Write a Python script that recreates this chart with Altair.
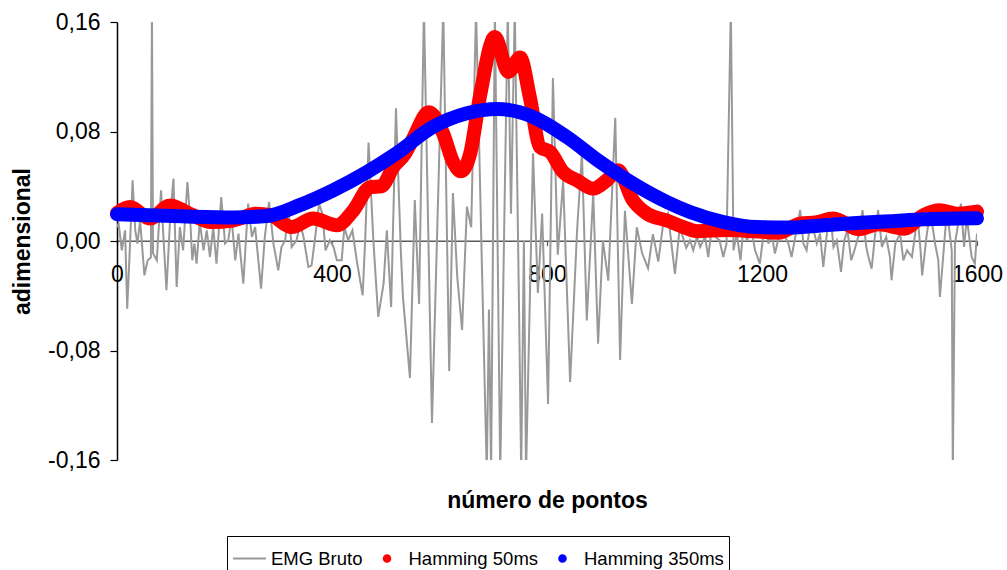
import altair as alt
import pandas as pd

# Raw EMG signal (sample index, amplitude)
EMG_X = [0, 3, 9, 15, 19, 24, 29, 34, 38, 43, 51, 57, 63, 65, 67, 74, 82, 86, 92, 99,
         105, 111, 117, 123, 131, 136, 140, 144, 148, 154, 161, 167, 173, 179, 185, 194,
         201, 207, 213, 220, 226, 235, 244, 251, 257, 268, 275, 283, 291, 300, 306, 313,
         319, 325, 334, 341, 347, 356, 362, 368, 376, 382, 388, 396, 403, 409, 418, 423,
         430, 438, 446, 457, 462, 468, 477, 486, 496, 502, 510, 519, 528,
         532, 545, 554, 562, 571, 586, 607, 618, 625, 633, 642, 651, 659, 668, 679, 688,
         692, 696, 703, 713, 720, 727, 733, 740, 748, 752, 757, 761, 774, 783, 791, 802,
         811, 820, 830, 843, 856, 865, 874, 886, 895, 904, 914, 927, 936, 945, 958, 967,
         977, 988, 997, 1007, 1016, 1025, 1038, 1047, 1059,
         1066, 1072, 1079, 1085, 1094, 1100, 1106, 1113, 1121, 1128, 1134, 1142, 1147,
         1153, 1160, 1165, 1172, 1181, 1187, 1196, 1206, 1212, 1218, 1224, 1230, 1237,
         1243, 1249, 1255, 1263, 1271, 1277, 1283, 1288, 1296, 1302, 1308, 1314, 1320,
         1327, 1333, 1339, 1347, 1353, 1359, 1366, 1372, 1379, 1387, 1394, 1398, 1404,
         1410, 1416, 1423, 1431, 1438, 1441, 1448, 1457, 1463, 1470, 1479, 1485, 1489,
         1495, 1498, 1506, 1513, 1522, 1528, 1531, 1537, 1544, 1550, 1553, 1555, 1559,
         1565, 1570, 1576, 1581, 1590, 1596, 1600]
EMG_Y = [0.010, 0.0127, -0.0068, 0.0078, -0.0494, -0.0044, 0.0443, 0.0078, -0.0019, 0.0151,
         -0.0251, -0.0141, -0.012, 0.17, -0.009, -0.0141, 0.037, 0.0054, -0.036, 0.0175,
         0.0456, -0.0336, 0.0102, -0.0068, 0.0431, 0.0175, -0.0141, -0.0019, -0.0165, 0.0139,
         -0.0068, 0.0078, -0.0117, 0.0102, -0.0165, 0.0321, -0.0019, 0.0005, 0.0175, -0.0141,
         0.0054, -0.0311, 0.0273, 0.003, 0.0102, -0.0348, 0.003, 0.0285, -0.0019, -0.0214,
         -0.0044, 0.0005, 0.0237, -0.0044, 0.0005, 0.0127, 0.003, -0.019, -0.0178, 0.0005,
         0.0273, 0.02, -0.0068, 0.0005, -0.0044, -0.0141, -0.0141, 0.0102, 0.0005, 0.0078,
         -0.0141, -0.0397, 0.003, 0.072, 0.000, -0.0555, -0.0311, 0.0078, -0.0482, 0.097, -0.007,
         -0.041, -0.100, 0.03, -0.046, 0.17, -0.133, 0.17, -0.095, 0.035, -0.026, -0.065,
         0.025, 0.01, 0.17, -0.02, -0.17, -0.05, -0.17, 0.17, -0.17, 0.0, 0.17, 0.02, 0.17,
         -0.05, -0.17, 0.0, -0.17, 0.064, -0.038, 0.02, -0.119, 0.119, -0.01, 0.044, -0.103,
         0.008, 0.064, -0.058, 0.035, -0.075, 0.0, -0.029, 0.090, -0.087, 0.022, -0.046,
         0.01, -0.009, -0.02, 0.005, -0.015, 0.012, 0.02, -0.024, 0.01, -0.005,
         0.0005, -0.0068, 0.003, -0.0044, 0.003, -0.0117, 0.0078, 0.003, 0.0005, -0.0117,
         -0.0019, 0.17, -0.0068, 0.0054, -0.0141, 0.0078, 0.0005, 0.0078, -0.0068, -0.0165,
         0.0151, -0.0019, 0.0054, -0.0092, 0.0005, 0.0102, 0.003, -0.0019, -0.0117, 0.0054,
         0.0225, -0.0019, -0.0068, 0.0078, 0.0078, -0.0019, 0.0054, -0.019, 0.003, 0.0212,
         -0.0044, 0.0005, -0.0226, 0.0005, 0.0078, -0.0141, -0.0068, 0.003, 0.0225, -0.0044,
         -0.0117, -0.0202, 0.003, 0.0225, -0.0044, 0.003, -0.0117, -0.0287, -0.0019, 0.0054,
         -0.0141, -0.0068, -0.0117, 0.0054, 0.02, -0.0068, -0.0251, 0.003, 0.0225, -0.0019,
         -0.0141, -0.0409, -0.0117, 0.0225, 0.003, -0.0068, -0.17, -0.0019, 0.0127, 0.0273,
         -0.0044, 0.0175, -0.0117, -0.0165, 0.0054]

# Envelope after a 50 ms Hamming window
H50_X = [0, 24, 61, 99, 130, 154, 173, 216, 260, 285, 325, 365, 409, 440, 471, 492, 514,
         536, 551, 580, 607, 625, 640, 657, 675, 703, 728, 750, 768, 787, 806, 830, 856, 886,
         911, 932, 960, 986, 1023, 1054, 1080, 1134, 1184, 1230, 1271, 1300, 1333, 1380,
         1417, 1465, 1500, 1531, 1563, 1600]
H50_Y = [0.0205, 0.0248, 0.0164, 0.026, 0.021, 0.0164, 0.0139, 0.015, 0.020, 0.019, 0.0102,
         0.0164, 0.0115, 0.0224, 0.0394, 0.0400, 0.054, 0.064, 0.075, 0.094, 0.0784, 0.058,
         0.051, 0.0638, 0.1052, 0.149, 0.1235, 0.134, 0.1052, 0.0687, 0.065, 0.0504, 0.0443,
         0.0383, 0.0443, 0.0516, 0.0297, 0.020, 0.015, 0.0102, 0.0072, 0.008, 0.0072, 0.006,
         0.0127, 0.0135, 0.0164, 0.0085, 0.0122, 0.009, 0.0188, 0.0225, 0.020, 0.0215]

# Envelope after a 350 ms Hamming window
H350_X = [0, 120, 216, 279, 340, 402, 465, 520, 588, 651, 707, 774, 837, 899, 960, 1023,
          1066, 1128, 1190, 1252, 1314, 1376, 1438, 1500, 1563, 1600]
H350_Y = [0.0195, 0.018, 0.0172, 0.0183, 0.0262, 0.037, 0.0503, 0.064, 0.0833, 0.0933,
          0.0965, 0.0906, 0.076, 0.0577, 0.042, 0.0285, 0.0212, 0.0139, 0.0102, 0.0098,
          0.0115, 0.0131, 0.0144, 0.0159, 0.0164, 0.0166]

SERIES = ["EMG Bruto", "Hamming 50ms", "Hamming 350ms"]
COLORS = ["#999999", "#ff0000", "#0000ff"]
# legend glyphs: a short line for the raw signal, small dots for the envelopes
LINE_GLYPH = "M-1,0L1,0"
DOT_GLYPH = "M0,-0.2A0.2,0.2,0,1,1,0,0.2A0.2,0.2,0,1,1,0,-0.2Z"
GLYPH_SIZE = 1089

FONT = "Liberation Sans"

emg = pd.DataFrame({"x": EMG_X, "y": EMG_Y})
h50 = pd.DataFrame({"x": H50_X, "y": H50_Y})
h350 = pd.DataFrame({"x": H350_X, "y": H350_Y})
keys = pd.DataFrame({"series": SERIES})

x_scale = alt.Scale(domain=[0, 1600], nice=False, zero=False)
y_scale = alt.Scale(domain=[-0.16, 0.16], nice=False)

x_axis = alt.Axis(
    values=[0, 400, 800, 1200, 1600], format="d", offset=-219.3,
    grid=False, domainColor="#5a5a5a", domainWidth=1.6,
    tickColor="#5a5a5a", tickSize=5, tickWidth=1.2,
    labelFont=FONT, labelFontSize=23, labelColor="black", labelPadding=18,
    labelFlush=False, labelOverlap=False,
    title="número de pontos", titleFont=FONT, titleFontSize=23, titleFontWeight="bold",
    titleColor="black", titleX=430, titleY=260, titleAlign="center", titleBaseline="middle",
)
y_axis = alt.Axis(
    values=[-0.16, -0.08, 0, 0.08, 0.16],
    labelExpr="(datum.value < 0 ? '-' : '') + replace(format(abs(datum.value), '.2f'), '.', ',')",
    grid=False, domainColor="black", domainWidth=1.5,
    tickColor="black", tickSize=7, tickWidth=1.2,
    labelFont=FONT, labelFontSize=23, labelColor="black", labelPadding=10,
    labelFlush=False, labelOverlap=False,
    title="adimensional", titleFont=FONT, titleFontSize=23, titleFontWeight="bold",
    titleColor="black", titleAngle=270, titleX=-95, titleY=219,
    titleAlign="center", titleBaseline="middle",
)

x_enc = alt.X("x:Q", scale=x_scale, axis=x_axis)
y_enc = alt.Y("y:Q", scale=y_scale, axis=y_axis)

raw = alt.Chart(emg).mark_line(color=COLORS[0], strokeWidth=2, clip=True).encode(x=x_enc, y=y_enc)

env50 = alt.Chart(h50).mark_line(
    color=COLORS[1], strokeWidth=14, interpolate="monotone",
    strokeCap="round", strokeJoin="round",
).encode(x=x_enc, y=y_enc)

env350 = alt.Chart(h350).mark_line(
    color=COLORS[2], strokeWidth=14, interpolate="monotone",
    strokeCap="round", strokeJoin="round",
).encode(x=x_enc, y=y_enc)

legend = alt.Legend(
    title=None, orient="none", legendX=110, legendY=514, direction="horizontal",
    strokeColor="black", fillColor="white", padding=5,
    labelFont=FONT, labelFontSize=18.5, labelColor="black", labelOffset=4,
    symbolSize=GLYPH_SIZE, symbolOffset=0, symbolStrokeWidth=2, columnPadding=6.5,
)

# carries only the legend: no rows are drawn
key_layer = alt.Chart(keys).mark_point(
    filled=True, opacity=1, size=GLYPH_SIZE, strokeWidth=2
).encode(
    shape=alt.Shape("series:N", scale=alt.Scale(domain=SERIES, range=[LINE_GLYPH, DOT_GLYPH, DOT_GLYPH]), legend=legend),
    fill=alt.Fill("series:N", scale=alt.Scale(domain=SERIES, range=COLORS), legend=legend),
    stroke=alt.Stroke("series:N", scale=alt.Scale(domain=SERIES, range=COLORS), legend=legend),
).transform_filter("false")

chart = alt.layer(raw, env50, env350, key_layer).properties(
    width=860, height=438,
    autosize=alt.AutoSizeParams(type="none"),
    padding={"left": 117, "top": 22, "right": 30, "bottom": 110},
    background="white",
).configure_view(stroke=None)

chart.save("out.html", embed_options={"renderer": "svg", "actions": False})
